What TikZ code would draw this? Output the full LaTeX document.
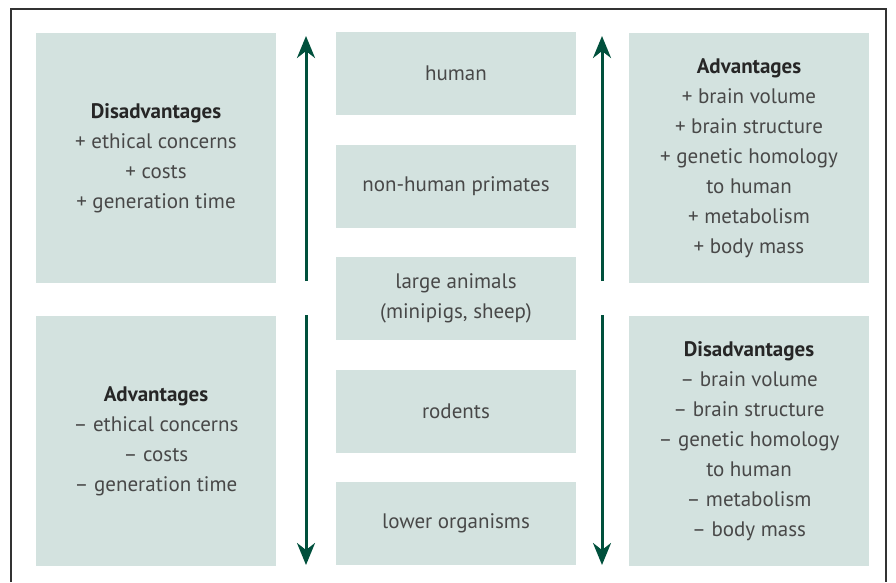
\documentclass[tikz,border=0pt]{standalone}
\usepackage{fontspec}
\setmainfont{PT Sans}
\usepackage{xcolor}
\usetikzlibrary{arrows.meta,positioning}
\definecolor{boxgreen}{RGB}{211,226,223}
\definecolor{darkgreen}{RGB}{0,80,60}
\definecolor{textgray}{RGB}{72,72,72}
\definecolor{framegray}{RGB}{50,50,50}
\tikzstyle{box} = [fill=boxgreen,text=textgray,minimum width=240pt,align=center,inner sep=0pt,font=\fontsize{21}{30}\selectfont]
\tikzstyle{bigbox} = [box,minimum height=250pt]
\tikzstyle{smallbox} = [box,minimum height=83pt]
\tikzstyle{arrow} = [line width=3pt,darkgreen,-{Stealth[length=22pt,width=18pt,inset=7pt]}]
\newcommand{\head}[1]{{\bfseries\color{black!85}#1}}

\begin{document}
\begin{tikzpicture}[x=1pt,y=-1pt]
\useasboundingbox (0,0) rectangle (896,582);
\draw [framegray, line width=1.5pt] (11,582) -- (11,9) -- (886,9) -- (886,582);

% left column
\node[bigbox] (leftdis) at (156,158) {\head{Disadvantages}\\+ ethical concerns\\+ costs\\+ generation time};
\node[bigbox] (leftadv) at (156,441) {\head{Advantages}\\\textendash{} ethical concerns\\\textendash{} costs\\\textendash{} generation time};

% species
\node[smallbox] (human) at (456,73.5) {human};
\node[smallbox] (primates) at (456,186) {non-human primates};
\node[smallbox] (large) at (456,298.5) {large animals\\(minipigs, sheep)};
\node[smallbox] (rodents) at (456,411) {rodents};
\node[smallbox] (lower) at (456,523.5) {lower organisms};

% right column
\node[bigbox] (rightadv) at (749,158) {\head{Advantages}\\+ brain volume\\+ brain structure\\+ genetic homology\\to human\\+ metabolism\\+ body mass};
\node[bigbox] (rightdis) at (749,441) {\head{Disadvantages}\\\textendash{} brain volume\\\textendash{} brain structure\\\textendash{} genetic homology\\to human\\\textendash{} metabolism\\\textendash{} body mass};

% arrows
\coordinate (lupa) at (306,281);
\coordinate (lupb) at (306,36);
\coordinate (ldowna) at (306,315);
\coordinate (ldownb) at (306,565);
\coordinate (rupa) at (602,281);
\coordinate (rupb) at (602,36);
\coordinate (rdowna) at (602,315);
\coordinate (rdownb) at (602,565);
\draw [arrow] (lupa) -- (lupb);
\draw [arrow] (ldowna) -- (ldownb);
\draw [arrow] (rupa) -- (rupb);
\draw [arrow] (rdowna) -- (rdownb);
\end{tikzpicture}
\end{document}
